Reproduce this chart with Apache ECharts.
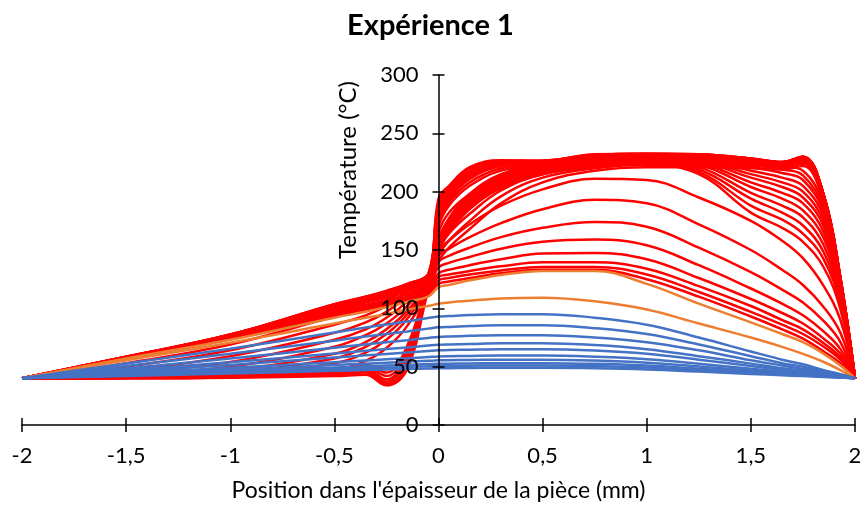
<!DOCTYPE html>
<html>
<head>
<meta charset="utf-8">
<script src="https://cdn.jsdelivr.net/npm/echarts@6/dist/echarts.min.js"></script>
<style>
  html, body { margin: 0; padding: 0; background: #fff; }
  #chart { width: 861px; height: 510px; }
</style>
</head>
<body>
<div id="chart"></div>
<script>
// positions (mm) where every profile is read
const xPos = [-2, -1.5, -1, -0.5, -0.35, -0.25, -0.15, -0.05, 0, 0.05, 0.15, 0.3, 0.5, 0.75, 1, 1.25, 1.5, 1.65, 1.75, 1.85, 1.93, 2];

// red : heating, left side still cold
const redEarly = [
  [40, 40, 40.5, 42, 43, 34, 48, 115, 140, 152, 168, 190, 208, 218, 221, 221, 220, 219, 222, 190, 122, 40],
  [40, 40.2, 41, 43, 45, 35, 52, 117, 145, 158, 175, 196, 212, 220, 223, 223, 222, 221, 224, 192, 123, 40],
  [40, 40.4, 41.5, 44, 46.5, 37, 56, 119, 150, 164, 181, 201, 215, 222, 225, 225, 224, 222, 225, 193, 124, 40],
  [40, 40.6, 42, 45, 48, 39, 60, 121, 155, 170, 187, 206, 218, 224, 226, 226, 225, 223, 226, 194, 124, 40],
  [40, 40.8, 42.5, 46, 50, 42, 64, 123, 160, 176, 193, 210, 220, 226, 228, 228, 226, 224, 227, 195, 125, 40],
  [40, 41, 43, 47, 52, 45, 68, 125, 165, 182, 198, 214, 222, 227, 229, 229, 227, 225, 228, 196, 125, 40]
];
// red : heating, left side warming up
const redHeat = [
  [40, 40, 41, 47, 55, 66, 85, 118, 170, 188, 205, 218, 223, 228, 230, 230, 228, 225, 229, 196, 125, 40],
  [40, 40.5, 43, 53, 62, 73, 91, 120, 173, 191, 208, 220, 224, 229, 231, 231, 228, 225, 229, 196, 125, 40],
  [40, 41, 45, 57, 67, 78, 95, 122, 176, 193, 211, 222, 225, 230, 231, 231, 228, 225, 229.5, 196, 125, 40],
  [40, 42, 47, 61, 71, 82, 98, 123, 179, 195, 213, 223, 225.5, 230.5, 232, 231, 228, 225, 229.5, 196, 125, 40],
  [40, 43, 50, 67, 77, 87, 102, 125, 182, 197, 215, 224, 226, 231, 232, 231.5, 228, 225, 230, 197, 126, 40],
  [40, 45, 54, 73, 82, 92, 106, 126, 185, 199, 217, 225, 226, 231, 232, 231.5, 228, 225, 230, 197, 126, 40],
  [40, 47, 59, 79, 88, 97, 110, 127, 188, 201, 219, 226, 226.5, 231.5, 232.5, 232, 228.5, 225.5, 230, 197, 126, 40],
  [40, 50, 64, 86, 94, 102, 114, 128, 191, 203, 220, 226.5, 226.5, 231.5, 232.5, 232, 228.5, 225.5, 230, 197, 126, 40],
  [40, 53, 69, 93, 100, 107, 118, 129, 194, 205, 221, 227, 226.5, 232, 232.5, 232, 228.5, 225.5, 230, 197, 126, 40]
];
// red : start of cooling, right side drops first
const redFan = [
  [40, 58.5, 77.5, 103.5, 110, 115, 121, 129, 158, 177, 198, 215, 224, 230, 231, 230, 225, 222, 218, 188, 124, 40],
  [40, 58.5, 77.5, 103.5, 110, 115, 121, 129, 157.5, 176.5, 197.5, 214.5, 223.5, 229.5, 231, 229.5, 223, 219, 214, 185, 123, 40],
  [40, 58.5, 77.5, 103, 109.5, 114.5, 120.5, 128.5, 157, 176, 197, 214, 223, 229, 230.5, 229, 221, 216, 210, 182, 122, 40],
  [40, 58.5, 77, 103, 109.5, 114.5, 120.5, 128.5, 156, 175, 196, 213, 222.5, 228.5, 230, 228, 218, 212, 205, 178, 120, 40],
  [40, 58, 77, 102.5, 109, 114, 120, 128, 155.5, 174, 195, 212, 222, 228, 229.5, 227, 215, 208, 200, 174, 118, 40],
  [40, 58, 77, 102, 108.5, 113.5, 120, 128, 155, 173, 194, 211, 221, 227, 229, 226, 212, 204, 195, 170, 116, 40],
  [40, 58, 76.5, 101.5, 108, 113, 119.5, 127.5, 154, 172, 193, 210, 220, 226, 228, 224.5, 208, 199, 190, 165, 114, 40],
  [40, 58, 76.5, 101, 107.5, 112.5, 119, 127.5, 153, 170, 191, 208, 219, 225, 227, 223, 204, 194, 184, 160, 112, 40],
  [40, 57.5, 76, 100.5, 107, 112, 118.5, 127, 152, 169, 190, 207, 218, 224, 226, 221, 199, 188, 178, 154, 109, 40],
  [40, 57.5, 76, 100, 106.5, 111.5, 118, 127, 151, 168, 188, 206, 217, 223, 225, 219, 194, 182, 171, 148, 106, 40],
  [40, 57.5, 75.5, 99.5, 106, 111, 117.5, 126.5, 150, 166, 187, 205, 216, 222, 224, 217, 188, 176, 164, 142, 103, 40],
  [40, 57.5, 75.5, 99, 105.5, 110.5, 117, 126.5, 149, 165, 185, 203, 215, 221, 223, 215, 182, 169, 157, 135, 99, 40]
];
// red : cooling humps
const redCool = [
  [40, 58, 77, 103, 109, 114, 120, 127, 150, 158, 172, 188, 202, 211, 210, 195, 175, 158, 143, 119, 90, 40],
  [40, 58, 76.5, 102, 108, 112.5, 118, 125, 145, 151, 161, 173, 185, 193, 190, 172, 150, 133, 120, 101, 79, 40],
  [40, 58, 76, 101, 106.5, 111, 116, 123, 140, 145, 152, 161, 169, 174, 170, 152, 131, 116, 105, 89, 71, 40],
  [40, 57.5, 75.5, 99.5, 105, 109, 114, 120, 135, 139, 144, 151, 157, 159, 154, 137, 117, 104, 94, 80, 65, 40],
  [40, 57, 75, 98, 103, 107, 112, 118, 130, 133, 137, 142, 147, 147.5, 142, 126, 108, 96, 87, 74, 61, 40],
  [40, 57, 74.5, 96.5, 101.5, 105.5, 110, 116, 127, 129, 132, 136, 139.5, 139.5, 134, 119, 102, 90, 82, 70, 58, 40],
  [40, 57, 74, 95, 100, 104, 108.5, 114, 124, 126, 129, 132.5, 135.5, 135.5, 129, 114, 97, 86, 78, 67, 56, 40],
  [40, 57, 73.5, 94, 99, 103, 107, 112, 121, 123, 126, 130, 133, 133, 125, 110, 93, 82, 74, 63, 53, 40]
];
// orange
const orangeT = [
  [40, 57, 73, 92, 97, 101, 105.5, 110, 118, 120, 124, 128.5, 132, 132, 121, 104, 88, 78, 71, 61, 51, 40],
  [40, 55.5, 70.5, 87, 92, 95, 99, 102, 104, 105, 106.5, 108.5, 109, 106, 99, 87, 75, 67, 61, 54, 47, 40]
];
// blue
const blueT = [
  [40, 52.7, 65.4, 79.2, 83.5, 86.1, 88.8, 91.7, 93, 93.4, 94.2, 95, 95, 92, 86, 75, 63, 56, 52, 47, 43.5, 40],
  [40, 50.5, 61, 72.3, 75.8, 78, 80.2, 82.6, 83.7, 84.1, 84.8, 85.5, 85.5, 83, 78, 69, 59, 53, 50, 46, 43, 40],
  [40, 48.5, 57, 66.3, 69.1, 70.9, 72.7, 74.6, 75.5, 75.9, 76.4, 77, 77, 75, 71, 64, 55.5, 51, 48, 45, 42.4, 40],
  [40, 46.9, 53.8, 61.3, 63.6, 65.1, 66.5, 68.1, 68.8, 69.1, 69.5, 70, 70, 68.5, 65, 59, 52.6, 48.7, 46.6, 44, 42, 40],
  [40, 45.8, 51.5, 57.8, 59.7, 60.9, 62.1, 63.4, 64, 64.2, 64.6, 65, 65, 63.8, 61, 56, 50.5, 47.3, 45.5, 43.3, 41.6, 40],
  [40, 44.5, 49, 53.8, 55.3, 56.3, 57.2, 58.2, 58.7, 58.9, 59.2, 59.5, 59.5, 58.5, 56.4, 52.5, 48.2, 45.7, 44.3, 42.5, 41.2, 40],
  [40, 43.7, 47.4, 51.4, 52.6, 53.4, 54.2, 55, 55.4, 55.5, 55.8, 56, 56, 55.2, 53.4, 50.2, 46.7, 44.6, 43.5, 42, 41, 40],
  [40, 43, 46, 49.3, 50.3, 50.9, 51.5, 52.2, 52.5, 52.6, 52.8, 53, 53, 52.4, 50.9, 48.3, 45.5, 43.8, 42.9, 41.7, 40.8, 40],
  [40, 42.5, 45.1, 47.8, 48.7, 49.2, 49.8, 50.3, 50.6, 50.7, 50.8, 51, 51, 50.5, 49.2, 47, 44.6, 43.2, 42.4, 41.4, 40.7, 40],
  [40, 42.1, 44.1, 46.4, 47.1, 47.5, 47.9, 48.4, 48.6, 48.7, 48.9, 49, 49, 48.6, 47.6, 45.8, 43.8, 42.6, 42, 41.2, 40.6, 40]
];

const RED = '#FF0000', ORANGE = '#ED7D31', BLUE = '#4472C4';
const FONT = 'Lato';

function profile(temps, color) {
  return {
    type: 'line',
    data: xPos.map((x, i) => [x, temps[i]]),
    smooth: 0.4,
    showSymbol: false,
    silent: true,
    lineStyle: { color: color, width: 2.5 },
    itemStyle: { color: color }
  };
}

const series = [];
redEarly.concat(redHeat, redFan, redCool).forEach(t => series.push(profile(t, RED)));
orangeT.forEach(t => series.push(profile(t, ORANGE)));
blueT.forEach(t => series.push(profile(t, BLUE)));

const axisLineStyle = { color: '#000', width: 1.5 };
const fmtComma = v => String(v).replace('.', ',');

// grid is 833 px wide and x runs -2..2, so x = 0 sits 416.5 px from the left edge
const GRID_L = 22, GRID_R = 6;
const yOffset = -(861 - GRID_L - GRID_R) / 2;

const chart = echarts.init(document.getElementById('chart'));
chart.setOption({
  animation: false,
  title: {
    text: 'Expérience 1',
    left: 'center',
    top: 6,
    textStyle: { fontFamily: FONT, fontWeight: 'bold', fontSize: 29, color: '#000' }
  },
  grid: { left: GRID_L, right: GRID_R, top: 75, bottom: 85, containLabel: false, outerBoundsMode: 'none' },
  xAxis: [{
    type: 'value', min: -2, max: 2, interval: 0.5, z: 5,
    name: "Position dans l'épaisseur de la pièce (mm)",
    nameLocation: 'middle', nameGap: 54,
    nameTextStyle: { fontFamily: FONT, fontSize: 23, color: '#000' },
    axisLine: { onZero: false, lineStyle: axisLineStyle },
    axisTick: { length: 7, lineStyle: axisLineStyle },
    axisLabel: { fontFamily: FONT, fontSize: 22, color: '#000', margin: 20, formatter: fmtComma },
    splitLine: { show: false }
  }, {
    type: 'value', min: -2, max: 2, interval: 0.5, position: 'bottom', z: 5,
    axisLine: { show: false, onZero: false },
    axisTick: { inside: true, length: 7, lineStyle: axisLineStyle },
    axisLabel: { show: false },
    splitLine: { show: false }
  }],
  yAxis: [{
    type: 'value', min: 0, max: 300, interval: 50, position: 'left', offset: yOffset, z: 5,
    axisLine: { onZero: false, lineStyle: axisLineStyle },
    axisTick: { length: 6, lineStyle: axisLineStyle },
    axisLabel: { fontFamily: FONT, fontSize: 22, color: '#000', margin: 20 },
    splitLine: { show: false }
  }, {
    type: 'value', min: 0, max: 300, interval: 50, position: 'left', offset: yOffset, z: 5,
    axisLine: { show: false, onZero: false },
    axisTick: { inside: true, length: 6, lineStyle: axisLineStyle },
    axisLabel: { show: false },
    splitLine: { show: false }
  }],
  graphic: [{
    type: 'text',
    x: 348, y: 170,
    rotation: Math.PI / 2,
    style: {
      text: 'Température (°C)',
      font: '24px ' + FONT,
      fill: '#000',
      align: 'center',
      verticalAlign: 'middle'
    }
  }],
  series: series
});
</script>
</body>
</html>
